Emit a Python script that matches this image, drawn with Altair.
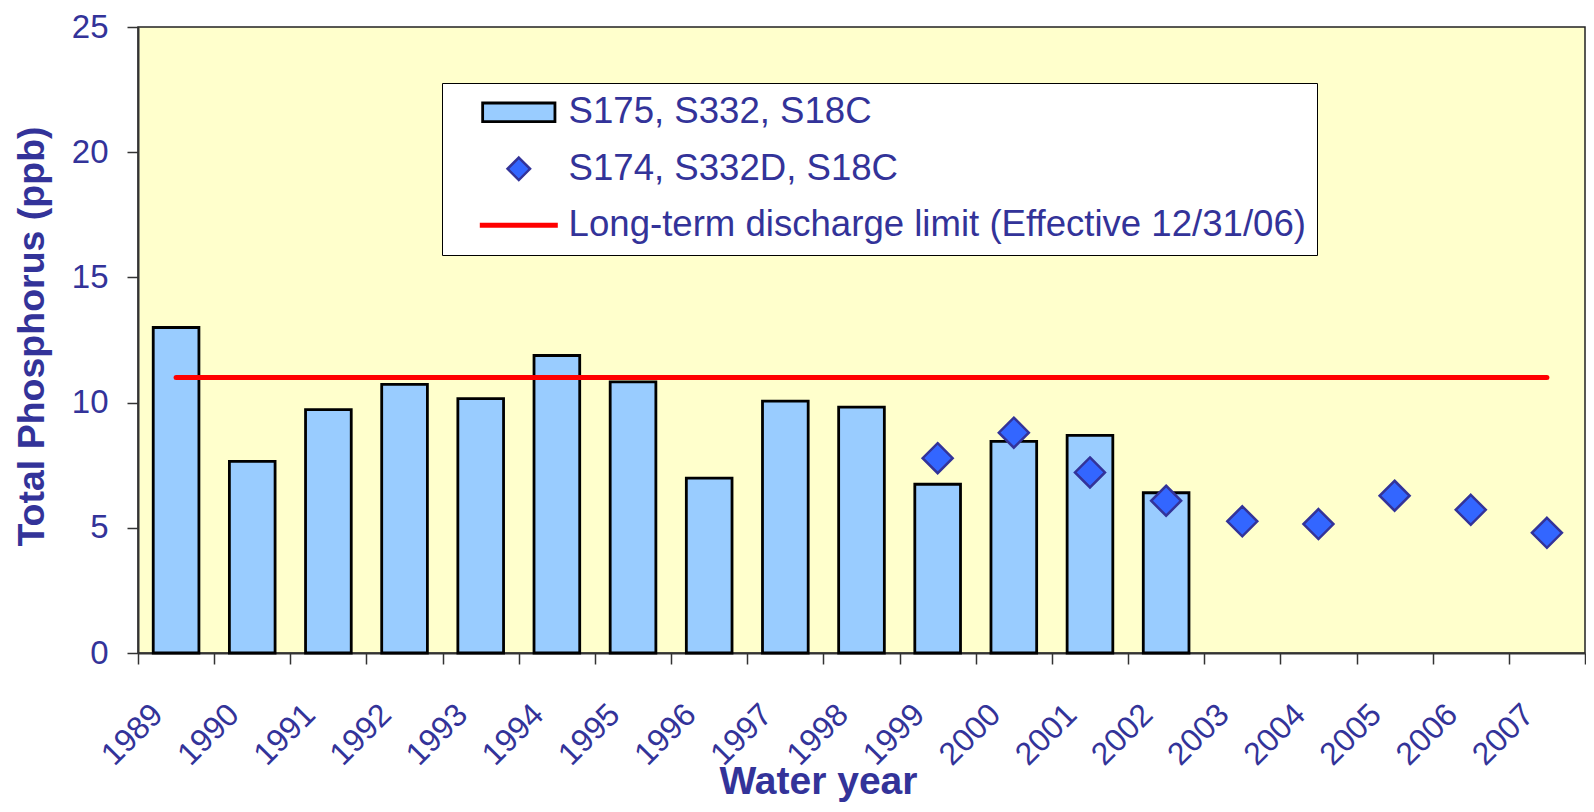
import altair as alt
import pandas as pd

# ---------------- data ----------------
years = ["1989", "1990", "1991", "1992", "1993", "1994", "1995", "1996", "1997", "1998",
         "1999", "2000", "2001", "2002", "2003", "2004", "2005", "2006", "2007"]

bar_years = ["1989", "1990", "1991", "1992", "1993", "1994", "1995", "1996", "1997", "1998",
             "1999", "2000", "2001", "2002"]
bar_tp = [13.0, 7.65, 9.72, 10.73, 10.16, 11.88, 10.83, 6.98, 10.06, 9.82, 6.74, 8.45, 8.69, 6.40]

pt_years = ["1999", "2000", "2001", "2002", "2003", "2004", "2005", "2006", "2007"]
pt_tp = [7.78, 8.80, 7.21, 6.08, 5.26, 5.15, 6.28, 5.72, 4.80]

limit_years = ["1989", "2007"]
limit_tp = [11.0, 11.0]

series_names = ["S175, S332, S18C", "S174, S332D, S18C",
                "Long-term discharge limit (Effective 12/31/06)"]
y_ticks = [0, 5, 10, 15, 20, 25]

# ---------------- styling ----------------
TXT = "#333399"
FONT = "Liberation Sans"
RECT = "M-2.41,-0.62H2.41V0.62H-2.41Z"
DIAMOND = "M0,-0.75L0.75,0L0,0.75L-0.75,0Z"
LINE = "M-2.6,0H2.6"

bars_df = pd.DataFrame({"year": bar_years, "tp": bar_tp, "series": series_names[0]})
pts_df = pd.DataFrame({"year": pt_years, "tp": pt_tp, "series": series_names[1]})
lim_df = pd.DataFrame({"year": limit_years, "tp": limit_tp, "series": series_names[2]})

x_scale = alt.Scale(domain=years, paddingInner=0, paddingOuter=0)
y_scale = alt.Scale(domain=[0, 25])
fill_scale = alt.Scale(domain=series_names, range=["#99CCFF", "#3366FF", "transparent"])
stroke_scale = alt.Scale(domain=series_names, range=["#000000", "#333399", "#FF0000"])
sw_scale = alt.Scale(type="ordinal", domain=series_names, range=[2.8, 2.5, 5])
shape_scale = alt.Scale(domain=series_names, range=[RECT, DIAMOND, LINE])

x_axis = alt.Axis(
    title="Water year", labelAngle=-45, labelAlign="right", labelBaseline="middle",
    labelFontSize=32, labelColor=TXT, labelFont=FONT, labelPadding=45, labelOffset=-19,
    labelOverlap=False, tickBand="extent", tickSize=11, tickColor="#333333", tickWidth=1.5,
    domainColor="#333333", domainWidth=2, grid=False,
    titleFont=FONT, titleFontSize=39, titleFontWeight="bold", titleColor=TXT,
    titleX=680, titleY=140, titleAlign="center", titleBaseline="alphabetic", titleAngle=0,
)
y_axis = alt.Axis(
    title="Total Phosphorus (ppb)", values=y_ticks, labelFontSize=33, labelColor=TXT,
    labelFont=FONT, labelPadding=19, tickSize=11, tickColor="#333333", tickWidth=1.5,
    domainColor="#333333", domainWidth=2, grid=False,
    titleFont=FONT, titleFontSize=37.5, titleFontWeight="bold", titleColor=TXT,
    titleX=-95, titleY=309, titleAlign="center", titleBaseline="alphabetic", titleAngle=-90,
)

leg = alt.Legend(title=None)

bars = alt.Chart(bars_df).mark_bar(width=alt.RelativeBandSize(0.6)).encode(
    x=alt.X("year:N", scale=x_scale, axis=x_axis),
    y=alt.Y("tp:Q", scale=y_scale, axis=y_axis),
    fill=alt.Fill("series:N", scale=fill_scale, legend=leg),
    stroke=alt.Stroke("series:N", scale=stroke_scale, legend=leg),
    strokeWidth=alt.StrokeWidth("series:N", scale=sw_scale, legend=leg),
)

limit = alt.Chart(lim_df).mark_line(strokeCap="round").encode(
    x=alt.X("year:N", scale=x_scale),
    y=alt.Y("tp:Q", scale=y_scale),
    stroke=alt.Stroke("series:N", scale=stroke_scale, legend=leg),
    strokeWidth=alt.StrokeWidth("series:N", scale=sw_scale, legend=leg),
)

points = alt.Chart(pts_df).mark_point(filled=True, size=1600, opacity=1).encode(
    x=alt.X("year:N", scale=x_scale),
    y=alt.Y("tp:Q", scale=y_scale),
    fill=alt.Fill("series:N", scale=fill_scale, legend=leg),
    stroke=alt.Stroke("series:N", scale=stroke_scale, legend=leg),
    strokeWidth=alt.StrokeWidth("series:N", scale=sw_scale, legend=leg),
    shape=alt.Shape("series:N", scale=shape_scale, legend=leg),
)

chart = alt.layer(bars, limit, points).properties(
    width=1447, height=626,
    autosize=alt.AutoSizeParams(type="none"),
    padding={"left": 130, "top": 19, "right": 1, "bottom": 151},
    background="white",
).configure_view(
    fill="#FFFFCC", stroke="#222222", strokeWidth=1.5
).configure_legend(
    orient="none", legendX=304, legendY=56, fillColor="white", strokeColor="black",
    padding=11, symbolSize=900, symbolOffset=47.5, labelOffset=31.5, rowPadding=19.5,
    labelFontSize=36.6, labelFont=FONT, labelColor=TXT, labelLimit=1000,
)

chart.save("out.html", embed_options={"renderer": "svg", "actions": False})
